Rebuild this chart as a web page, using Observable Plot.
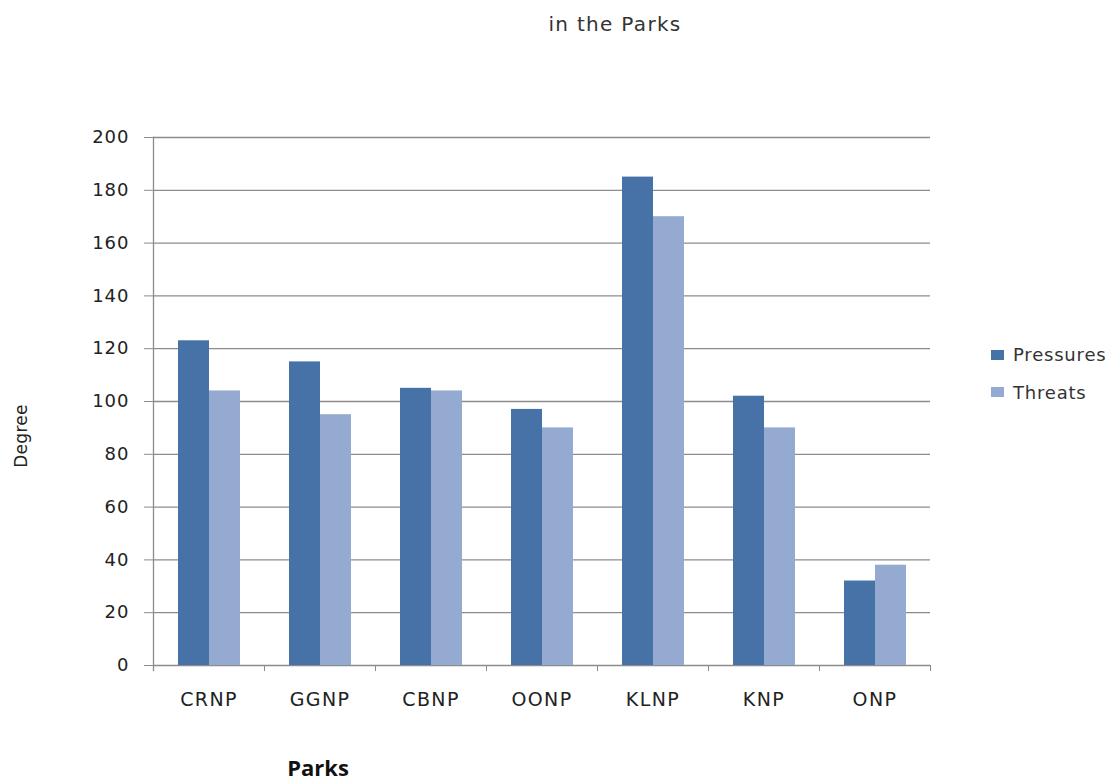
<!DOCTYPE html>
<html>
<head>
<meta charset="utf-8">
<script src="https://cdn.jsdelivr.net/npm/d3@7"></script>
<script src="https://cdn.jsdelivr.net/npm/@observablehq/plot@0.6"></script>
<style>
  html, body { margin: 0; padding: 0; background: #fff; }
  #wrap { position: relative; width: 1119px; height: 780px; font-family: "DejaVu Sans", sans-serif; color: #222; }
  #wrap svg { position: absolute; left: 0; top: 0; }
  #wrap svg g[aria-label="y-axis tick label"] text { letter-spacing: 1px; }
  #wrap svg g[aria-label="fx-axis tick label"] text { letter-spacing: 1.4px; }
  .title { position: absolute; left: 615px; top: 24px; transform: translate(-50%, -50%); white-space: nowrap; font-size: 20px; letter-spacing: 1.3px; color: #333; }
  .ylab { position: absolute; left: 21px; top: 436px; transform: translate(-50%, -50%) rotate(-90deg); font-size: 17px; letter-spacing: 0.3px; color: #222; white-space: nowrap; }
  .xlab { position: absolute; left: 318px; top: 767px; transform: translate(-50%, -50%); font-size: 22px; font-weight: bold; color: #111; font-family: "Open Sans", sans-serif; white-space: nowrap; }
  .legend { position: absolute; left: 991px; top: 336px; font-size: 18px; color: #333; letter-spacing: 0.8px; }
  .legend .item { display: flex; align-items: center; height: 37.6px; }
  .legend .sw { width: 13px; height: 10px; margin-right: 9px; }
</style>
</head>
<body>
<div id="wrap">
  <div class="title">in the Parks</div>
  <div class="ylab">Degree</div>
  <div class="xlab">Parks</div>
  <div class="legend" id="legend"></div>
</div>
<script>
const parks = ["CRNP", "GGNP", "CBNP", "OONP", "KLNP", "KNP", "ONP"];
const seriesNames = ["Pressures", "Threats"];
const pressures = [123, 115, 105, 97, 185, 102, 32];
const threats = [104, 95, 104, 90, 170, 90, 38];
const seriesColors = ["#4672A8", "#94AAD1"];
const yTicks = [0, 20, 40, 60, 80, 100, 120, 140, 160, 180, 200];

const table = [];
parks.forEach((p, i) => {
  table.push({park: p, series: seriesNames[0], value: pressures[i]});
  table.push({park: p, series: seriesNames[1], value: threats[i]});
});

const W = 1119, H = 780;
const mTop = 137, mBottom = 115, mLeft = 152, mRight = 188;
const plotH = H - mTop - mBottom;
const axisColor = "#8c8c8c";

const chart = Plot.plot({
  width: W,
  height: H,
  marginTop: mTop,
  marginBottom: mBottom,
  marginLeft: mLeft,
  marginRight: mRight,
  style: {fontFamily: "DejaVu Sans, sans-serif", fontSize: "17px", background: "transparent", color: "#222"},
  fx: {domain: parks, padding: 0, label: null, axis: null},
  x: {domain: seriesNames, paddingInner: 0, paddingOuter: 0.78, axis: null},
  y: {domain: [0, 200], axis: null},
  color: {domain: seriesNames, range: seriesColors},
  marks: [
    Plot.ruleY(yTicks, {stroke: axisColor, strokeWidth: 1.3}),
    Plot.barY(table, {fx: "park", x: "series", y: "value", fill: "series"}),
    Plot.frame({anchor: "left", stroke: axisColor, strokeWidth: 1.3, insetBottom: -5, facetAnchor: "left"}),
    Plot.frame({anchor: "left", stroke: axisColor, strokeWidth: 1, insetTop: plotH, insetBottom: -5}),
    Plot.frame({anchor: "right", stroke: axisColor, strokeWidth: 1, insetTop: plotH, insetBottom: -5, facetAnchor: "right"}),
    Plot.axisY({ticks: yTicks, tickSize: 9, tickPadding: 15, fontSize: 18, stroke: axisColor, fill: "#222", label: null}),
    Plot.axisFx({anchor: "bottom", tickSize: 0, tickPadding: 27, fontSize: 19, fill: "#222", label: null})
  ]
});
document.getElementById("wrap").prepend(chart);

const legend = document.getElementById("legend");
seriesNames.forEach((s, i) => {
  const item = document.createElement("div");
  item.className = "item";
  const sw = document.createElement("div");
  sw.className = "sw";
  sw.style.background = seriesColors[i];
  const t = document.createElement("span");
  t.textContent = s;
  item.appendChild(sw);
  item.appendChild(t);
  legend.appendChild(item);
});
</script>
</body>
</html>
